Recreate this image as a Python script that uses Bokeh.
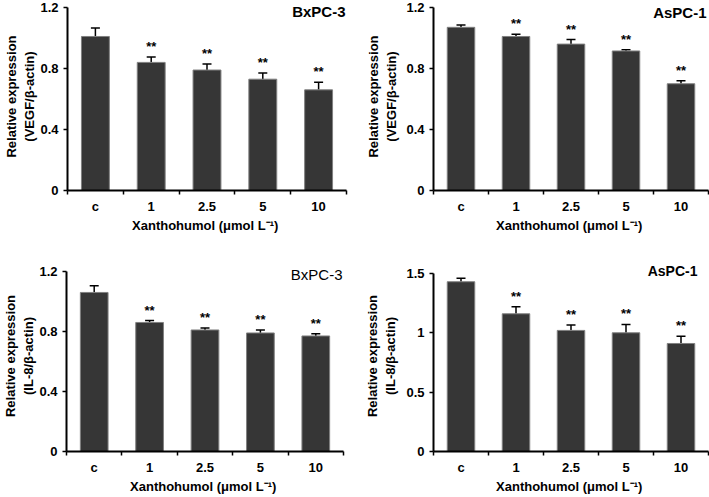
from bokeh.plotting import figure
from bokeh.layouts import column, row
from bokeh.models import ColumnDataSource, Whisker, TeeHead, FixedTicker, Label, Range1d
from bokeh.core.properties import value
from bokeh.embed import file_html
from bokeh.resources import INLINE

categories = ["c", "1", "2.5", "5", "10"]
significance = ["", "**", "**", "**", "**"]

vegf_bxpc3 = [1.01, 0.84, 0.79, 0.73, 0.66]
vegf_bxpc3_err = [0.055, 0.035, 0.04, 0.04, 0.05]
vegf_aspc1 = [1.07, 1.01, 0.96, 0.915, 0.70]
vegf_aspc1_err = [0.015, 0.015, 0.03, 0.008, 0.02]
il8_bxpc3 = [1.06, 0.86, 0.81, 0.79, 0.77]
il8_bxpc3_err = [0.045, 0.013, 0.013, 0.02, 0.015]
il8_aspc1 = [1.43, 1.16, 1.02, 1.00, 0.91]
il8_aspc1_err = [0.03, 0.06, 0.045, 0.07, 0.06]

y_ticks_a = [0, 0.4, 0.8, 1.2]
y_labels_a = ["0", "0.4", "0.8", "1.2"]
y_ticks_b = [0, 0.5, 1, 1.5]
y_labels_b = ["0", "0.5", "1", "1.5"]

FONT = "Liberation Sans"


def make_panel(vals, errs, ylabel, yticks, ylabels, title, title_style, title_size,
               width, height, bl, br, bt, bb, top_pad, ylab_standoff, tdx, tdy):
    n = len(categories)
    xs = [i + 0.5 for i in range(n)]
    src = ColumnDataSource(dict(
        x=xs, top=vals,
        lower=vals,
        upper=[v + e for v, e in zip(vals, errs)],
        sig=significance,
    ))
    frame_h = height - bt - bb
    y_end = yticks[-1] * frame_h / (frame_h - top_pad)
    p = figure(width=width, height=height, output_backend="svg", toolbar_location=None,
               x_range=Range1d(0, n), y_range=Range1d(yticks[0], y_end),
               min_border_left=bl, min_border_right=br, min_border_top=bt, min_border_bottom=bb)
    p.outline_line_color = None
    p.xgrid.visible = False
    p.ygrid.visible = False
    p.background_fill_color = "white"
    p.border_fill_color = "white"

    p.vbar(x="x", top="top", bottom=0, width=0.5, source=src,
           fill_color="#363636", line_color="#808080", line_width=1)
    wh = Whisker(source=src, base="x", lower="lower", upper="upper", dimension="height",
                 line_color="black", line_width=1.5,
                 upper_head=TeeHead(size=9, line_color="black", line_width=1.5),
                 lower_head=None)
    p.add_layout(wh)
    p.text(x="x", y="upper", text="sig", source=src, text_align="center",
           text_baseline="bottom", y_offset=-3, text_font=value(FONT),
           text_font_style="bold", text_font_size="13px", text_color="black")

    xa = p.xaxis[0]
    xa.ticker = FixedTicker(ticks=xs, minor_ticks=list(range(n + 1)))
    xa.major_label_overrides = {x: c for x, c in zip(xs, categories)}
    xa.major_tick_out = 0
    xa.major_tick_in = 0
    xa.minor_tick_out = 4
    xa.minor_tick_in = 0
    xa.minor_tick_line_color = "black"
    xa.minor_tick_line_width = 1.5
    xa.axis_line_width = 2
    xa.axis_line_color = "black"
    xa.major_label_standoff = 4
    xa.axis_label = "Xanthohumol  (\u03bcmol L\u207b\u00b9)"
    xa.axis_label_standoff = 1

    ya = p.yaxis[0]
    ya.ticker = FixedTicker(ticks=yticks, minor_ticks=[])
    ya.bounds = (yticks[0], yticks[-1])
    ya.major_label_overrides = {t: l for t, l in zip(yticks, ylabels)}
    ya.major_tick_out = 4
    ya.major_tick_in = 0
    ya.major_tick_line_width = 1.5
    ya.axis_line_width = 2
    ya.axis_line_color = "black"
    ya.major_label_standoff = 5
    ya.axis_label = ylabel
    ya.axis_label_standoff = ylab_standoff

    for ax in (xa, ya):
        ax.major_label_text_font = FONT
        ax.major_label_text_font_style = "bold"
        ax.major_label_text_font_size = "13px"
        ax.major_label_text_color = "black"
        ax.axis_label_text_font = FONT
        ax.axis_label_text_font_style = "bold"
        ax.axis_label_text_font_size = "13px"
        ax.axis_label_text_color = "black"

    lab = Label(x=n, y=yticks[-1], text=title, text_align="right", text_baseline="middle",
                x_offset=tdx, y_offset=tdy, text_font=FONT, text_font_style=title_style,
                text_font_size=title_size, text_color="black")
    p.add_layout(lab)
    return p


p1 = make_panel(vegf_bxpc3, vegf_bxpc3_err, "Relative expression\n(VEGF/\u03b2-actin)",
                y_ticks_a, y_labels_a, "BxPC-3", "bold", "15px",
                354, 248, 67, 8, 2, 58, 5, 0, -1, -4)
p2 = make_panel(vegf_aspc1, vegf_aspc1_err, "Relative expression\n(VEGF/\u03b2-actin)",
                y_ticks_a, y_labels_a, "AsPC-1", "bold", "15px",
                355, 248, 79, 1, 2, 58, 5, 4, -2, -5)
p3 = make_panel(il8_bxpc3, il8_bxpc3_err, "Relative expression\n(IL-8/\u03b2-actin)",
                y_ticks_a, y_labels_a, "BxPC-3", "normal", "15px",
                354, 248, 63, 11, 12, 44, 11, 0, -1, -3)
p4 = make_panel(il8_aspc1, il8_aspc1_err, "Relative expression\n(IL-8/\u03b2-actin)",
                y_ticks_b, y_labels_b, "AsPC-1", "bold", "14px",
                355, 248, 79, 1, 12, 44, 13, 5, -11, 2)

layout = column(row(p1, p2), row(p3, p4))
open("out.html", "w").write(file_html(layout, INLINE))
